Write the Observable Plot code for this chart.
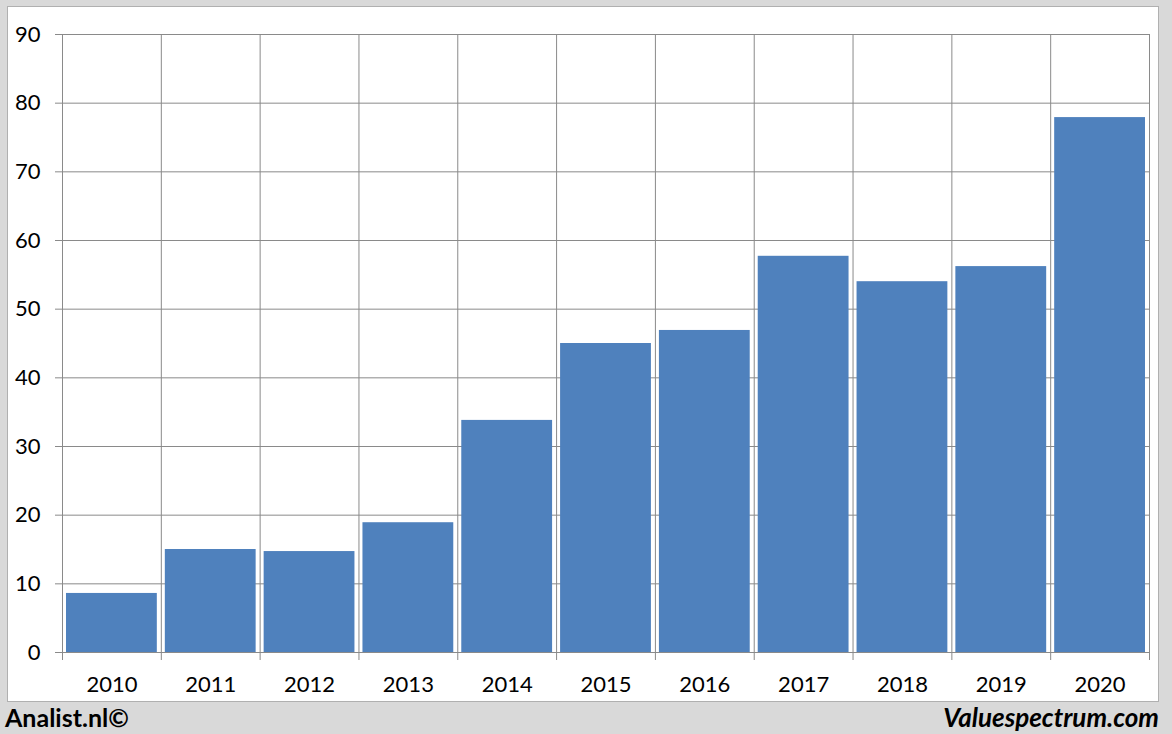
<!DOCTYPE html>
<html>
<head>
<meta charset="utf-8">
<script src="https://cdn.jsdelivr.net/npm/d3@7"></script>
<script src="https://cdn.jsdelivr.net/npm/@observablehq/plot@0.6"></script>
<style>
  html, body { margin: 0; padding: 0; }
  body { width: 1172px; height: 734px; background: #d9d9d9; position: relative; overflow: hidden; font-family: Lato, "Open Sans", sans-serif; }
  #panel { position: absolute; left: 7px; top: 6px; width: 1152px; height: 696px; background: #fff; border: 1px solid #b0b0b0; box-sizing: border-box; }
  #chart { position: absolute; left: 0; top: 0; }
  .foot { position: absolute; top: 702px; font-weight: bold; color: #000; line-height: 30px; }
  #left { left: 5px; font-size: 25px; }
  #right { right: 13px; font-style: italic; font-size: 26px; }
</style>
</head>
<body>
<div id="panel"></div>
<div id="chart"></div>
<div class="foot" id="left">Analist.nl©</div>
<div class="foot" id="right">Valuespectrum.com</div>
<script>
const years = ["2010","2011","2012","2013","2014","2015","2016","2017","2018","2019","2020"];
const values = [8.6, 15.0, 14.7, 18.9, 33.8, 45.0, 46.9, 57.7, 54.0, 56.2, 77.9];
const yTicks = [0,10,20,30,40,50,60,70,80,90];

const data = years.map((y, i) => ({year: y, i, value: values[i]}));
const boundaries = d3.range(0, years.length + 1);
const centers = years.map((_, i) => i + 0.5);

const chart = Plot.plot({
  width: 1172,
  height: 703,
  marginLeft: 62,
  marginRight: 23,
  marginTop: 34,
  marginBottom: 51,
  style: {background: "transparent", fontFamily: "Lato, 'Open Sans', sans-serif", fontSize: "22px", color: "#000"},
  x: {type: "linear", domain: [0, years.length]},
  y: {domain: [0, 90]},
  marks: [
    Plot.ruleY(yTicks, {stroke: "#8a8a8a", strokeWidth: 1, strokeOpacity: 1}),
    Plot.ruleX(boundaries, {y1: 0, y2: 90, stroke: "#8a8a8a", strokeWidth: 1}),
    Plot.rectY(data, {x1: "i", x2: d => d.i + 1, y: "value", fill: "#4f81bd", insetLeft: 4, insetRight: 4}),
    Plot.axisY({ticks: yTicks, tickSize: 7, tickPadding: 15, stroke: "#8a8a8a", fontSize: 22, tickFormat: d => String(d), label: null}),
    Plot.axisX({ticks: boundaries, tickSize: 8, tickFormat: () => "", stroke: "#8a8a8a", label: null}),
    Plot.axisX({ticks: centers, tickSize: 0, tickPadding: 24, fontSize: 22, tickFormat: d => years[Math.round(d - 0.5)], label: null})
  ]
});
document.getElementById("chart").appendChild(chart);
</script>
</body>
</html>
